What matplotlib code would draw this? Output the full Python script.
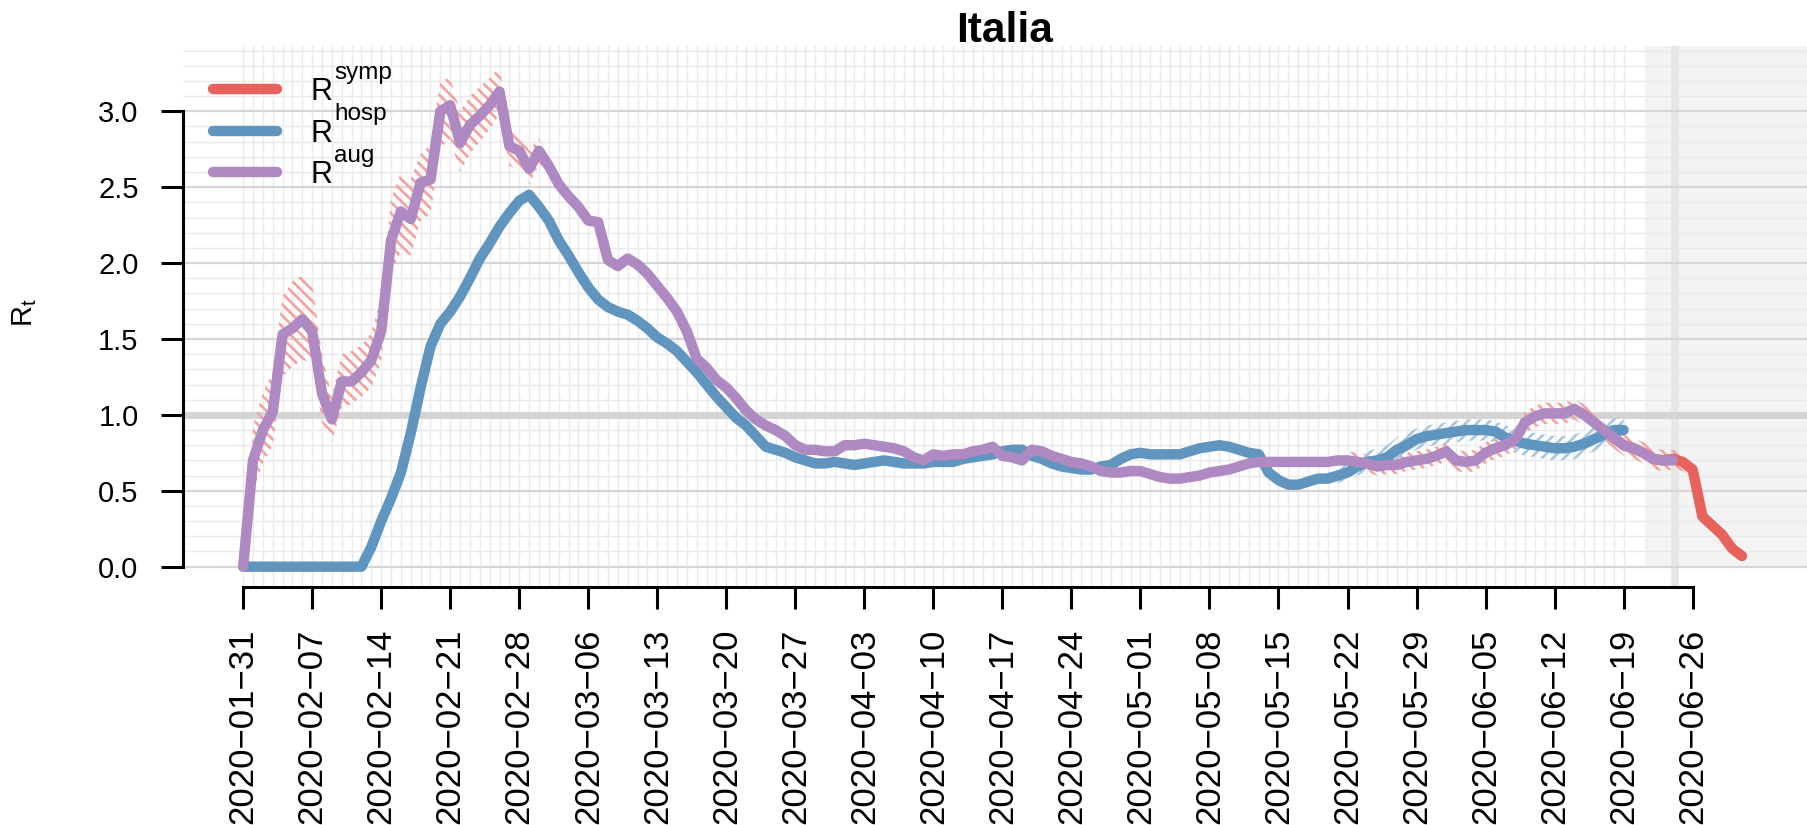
import numpy as np
import matplotlib.pyplot as plt
from matplotlib.lines import Line2D

plt.rcParams['font.family'] = ['Liberation Sans', 'DejaVu Sans']
plt.rcParams['mathtext.fontset'] = 'custom'
plt.rcParams['mathtext.rm'] = 'Liberation Sans'
plt.rcParams['mathtext.it'] = 'Liberation Sans:italic'
plt.rcParams['mathtext.bf'] = 'Liberation Sans:bold'
plt.rcParams['hatch.linewidth'] = 1.9

# all series are daily, day 0 = 2020-01-31
tick_labels = ['2020-01-31', '2020-02-07', '2020-02-14', '2020-02-21', '2020-02-28',
               '2020-03-06', '2020-03-13', '2020-03-20', '2020-03-27', '2020-04-03',
               '2020-04-10', '2020-04-17', '2020-04-24', '2020-05-01', '2020-05-08',
               '2020-05-15', '2020-05-22', '2020-05-29', '2020-06-05', '2020-06-12',
               '2020-06-19', '2020-06-26']

# R_aug, days 0..145
aug_vals = [0.00, 0.70, 0.90, 1.02, 1.53, 1.57, 1.63, 1.55, 1.14, 0.97,
            1.22, 1.22, 1.28, 1.36, 1.55, 2.15, 2.34, 2.29, 2.53, 2.55,
            3.00, 3.04, 2.79, 2.91, 2.97, 3.04, 3.13, 2.77, 2.74, 2.62,
            2.74, 2.64, 2.52, 2.44, 2.37, 2.28, 2.27, 2.02, 1.98, 2.03,
            1.99, 1.93, 1.85, 1.77, 1.68, 1.55, 1.37, 1.31, 1.23, 1.18,
            1.11, 1.03, 0.97, 0.93, 0.90, 0.86, 0.80, 0.77, 0.77, 0.76,
            0.76, 0.80, 0.80, 0.81, 0.80, 0.79, 0.78, 0.76, 0.72, 0.70,
            0.74, 0.73, 0.74, 0.74, 0.76, 0.77, 0.79, 0.73, 0.72, 0.70,
            0.77, 0.76, 0.73, 0.71, 0.69, 0.68, 0.66, 0.63, 0.62, 0.62,
            0.63, 0.63, 0.61, 0.59, 0.58, 0.58, 0.59, 0.60, 0.62, 0.63,
            0.64, 0.66, 0.68, 0.69, 0.69, 0.69, 0.69, 0.69, 0.69, 0.69,
            0.69, 0.70, 0.70, 0.69, 0.68, 0.66, 0.67, 0.67, 0.69, 0.70,
            0.71, 0.73, 0.76, 0.70, 0.69, 0.70, 0.75, 0.78, 0.80, 0.84,
            0.95, 0.99, 1.01, 1.01, 1.01, 1.04, 1.00, 0.95, 0.90, 0.85,
            0.80, 0.78, 0.75, 0.71, 0.70, 0.70]

# R_hosp, days 0..140
hosp_vals = [0.00, 0.00, 0.00, 0.00, 0.00, 0.00, 0.00, 0.00, 0.00, 0.00,
             0.00, 0.00, 0.00, 0.13, 0.30, 0.45, 0.62, 0.88, 1.18, 1.45,
             1.60, 1.68, 1.78, 1.90, 2.03, 2.13, 2.24, 2.33, 2.41, 2.45,
             2.37, 2.28, 2.15, 2.05, 1.94, 1.84, 1.76, 1.71, 1.68, 1.66,
             1.62, 1.57, 1.51, 1.47, 1.42, 1.35, 1.28, 1.20, 1.12, 1.05,
             0.98, 0.93, 0.86, 0.79, 0.77, 0.75, 0.72, 0.70, 0.68, 0.68,
             0.69, 0.68, 0.67, 0.68, 0.69, 0.70, 0.69, 0.68, 0.68, 0.68,
             0.69, 0.69, 0.69, 0.71, 0.72, 0.73, 0.74, 0.76, 0.77, 0.77,
             0.73, 0.71, 0.68, 0.66, 0.65, 0.64, 0.64, 0.66, 0.67, 0.71,
             0.74, 0.75, 0.74, 0.74, 0.74, 0.74, 0.76, 0.78, 0.79, 0.80,
             0.79, 0.77, 0.75, 0.74, 0.62, 0.57, 0.54, 0.54, 0.56, 0.58,
             0.58, 0.60, 0.62, 0.66, 0.69, 0.70, 0.72, 0.77, 0.80, 0.84,
             0.86, 0.87, 0.88, 0.89, 0.90, 0.90, 0.90, 0.89, 0.85, 0.83,
             0.81, 0.80, 0.79, 0.78, 0.78, 0.79, 0.81, 0.84, 0.87, 0.90,
             0.90]

# R_symp (visible part, under R_aug before), days 138..152
symp_start = 138
symp_vals = [0.90, 0.85, 0.80, 0.78, 0.75, 0.71, 0.70, 0.71, 0.69, 0.64,
             0.33, 0.27, 0.21, 0.12, 0.07]

# confidence bands
symp_ci1_lo = [0.00, 0.50, 0.68, 0.80, 1.25, 1.32, 1.36, 1.35, 0.95, 0.82,
               1.05, 1.07, 1.12, 1.18, 1.35, 1.92, 2.08, 2.05, 2.28, 2.32,
               2.76, 2.82, 2.60, 2.72, 2.80, 2.88, 2.98, 2.64, 2.62, 2.52,
               2.65, 2.57, 2.47, 2.40, 2.34, 2.26, 2.25]
symp_ci1_hi = [0.00, 0.92, 1.15, 1.28, 1.78, 1.88, 1.92, 1.86, 1.40, 1.12,
               1.40, 1.42, 1.46, 1.54, 1.78, 2.42, 2.60, 2.55, 2.72, 2.78,
               3.20, 3.22, 3.00, 3.10, 3.16, 3.22, 3.29, 2.92, 2.86, 2.74,
               2.82, 2.70, 2.57, 2.48, 2.40, 2.30, 2.29]
symp_ci2_start = 112
symp_ci2_lo = [0.64, 0.63, 0.62, 0.60, 0.61, 0.61, 0.63, 0.64, 0.65, 0.67,
               0.69, 0.63, 0.62, 0.63, 0.68, 0.71, 0.73, 0.77, 0.88, 0.92,
               0.94, 0.94, 0.94, 0.97, 0.93, 0.88, 0.83, 0.78, 0.73, 0.71,
               0.68, 0.64, 0.63, 0.64, 0.63, 0.59, 0.30, 0.25, 0.19, 0.11,
               0.06]
symp_ci2_hi = [0.76, 0.75, 0.74, 0.72, 0.73, 0.73, 0.75, 0.76, 0.77, 0.79,
               0.82, 0.77, 0.76, 0.77, 0.82, 0.85, 0.87, 0.91, 1.02, 1.06,
               1.08, 1.08, 1.08, 1.10, 1.07, 1.02, 0.97, 0.92, 0.87, 0.85,
               0.82, 0.78, 0.77, 0.77, 0.75, 0.69, 0.36, 0.29, 0.23, 0.13,
               0.08]
hosp_ci_start = 110
hosp_ci_lo = [0.54, 0.55, 0.57, 0.60, 0.63, 0.64, 0.65, 0.70, 0.73, 0.77,
              0.79, 0.80, 0.81, 0.82, 0.83, 0.83, 0.83, 0.82, 0.78, 0.75,
              0.73, 0.72, 0.71, 0.70, 0.70, 0.71, 0.73, 0.76, 0.79, 0.82,
              0.82]
hosp_ci_hi = [0.62, 0.65, 0.68, 0.72, 0.76, 0.78, 0.80, 0.85, 0.88, 0.91,
              0.93, 0.94, 0.95, 0.96, 0.97, 0.97, 0.97, 0.96, 0.93, 0.91,
              0.89, 0.88, 0.87, 0.86, 0.86, 0.87, 0.89, 0.92, 0.95, 0.98,
              0.98]

legend_sups = ['symp', 'hosp', 'aug']

shade_from = 142.2   # start of grey "incomplete" window
mark_day = 145.2     # vertical marker

c_symp = '#E8625D'
c_hosp = '#6095BF'
c_aug = '#AE89C2'

W, H = 1807, 825
fig = plt.figure(figsize=(W / 100, H / 100), dpi=100)
ax = fig.add_axes([183 / W, (H - 586.7) / H, 1 - 183 / W, (586.7 - 46) / H])
ax.set_xlim(-6.1, 158.6)
ax.set_ylim(-0.132, 3.43)

# background: shaded window, grid
ax.fill_between([shade_from, 160], 0, 4, color='#F3F3F3', lw=0, zorder=0)
ax.axvline(mark_day, color='#E6E6E6', lw=5.5, zorder=0.5)
for d in range(0, 141):
    ax.axvline(d, color='#EAEAEA', lw=1.0, zorder=0.6)
for k in range(0, 35):
    v = k / 10
    if k == 10:
        ax.axhline(v, color='#D4D4D4', lw=5.0, zorder=0.7)
    elif k % 5 == 0:
        ax.axhline(v, color='#D6D6D6', lw=1.6, zorder=0.7)
    else:
        ax.axhline(v, color='#EAEAEA', lw=1.0, zorder=0.6)

# confidence bands (hatched)
x1 = np.arange(len(symp_ci1_lo))
ax.fill_between(x1, symp_ci1_lo, symp_ci1_hi, facecolor='none', edgecolor='#F3A29E',
                hatch='\\\\\\', linewidth=0, zorder=1)
x2 = symp_ci2_start + np.arange(len(symp_ci2_lo))
ax.fill_between(x2, symp_ci2_lo, symp_ci2_hi, facecolor='none', edgecolor='#F3A29E',
                hatch='\\\\\\', linewidth=0, zorder=1)
x3 = hosp_ci_start + np.arange(len(hosp_ci_lo))
ax.fill_between(x3, hosp_ci_lo, hosp_ci_hi, facecolor='none', edgecolor='#A6C7E0',
                hatch='///', linewidth=0, zorder=1)

lw = 7.5
kw = dict(solid_capstyle='round', solid_joinstyle='round')
ax.plot(symp_start + np.arange(len(symp_vals)), symp_vals, color=c_symp, lw=lw, zorder=3, **kw)
ax.plot(np.arange(len(hosp_vals)), hosp_vals, color=c_hosp, lw=lw, zorder=4, **kw)
ax.plot(np.arange(len(aug_vals)), aug_vals, color=c_aug, lw=lw, zorder=5, **kw)

# axes in R style
for s in ['top', 'right']:
    ax.spines[s].set_visible(False)
ax.spines['left'].set_bounds(0, 3)
ax.spines['bottom'].set_bounds(0, 7 * (len(tick_labels) - 1))
ax.spines['left'].set_linewidth(2.2)
ax.spines['bottom'].set_linewidth(2.2)
ax.set_yticks(np.arange(0, 3.01, 0.5))
ax.set_yticklabels(['%.1f' % v for v in np.arange(0, 3.01, 0.5)], fontsize=21)
ax.set_xticks(np.arange(len(tick_labels)) * 7)
ax.set_xticklabels([t.replace('-', '\u2212') for t in tick_labels], rotation=90, fontsize=25)
ax.tick_params(axis='y', length=16, width=2.2, pad=16)
ax.tick_params(axis='x', length=16, width=2.2, pad=14)

# legend: "R" with raised superscripts
handles = [Line2D([], [], color=c, lw=lw, solid_capstyle='round') for c in (c_symp, c_hosp, c_aug)]
leg = ax.legend(handles, ['R'] * 3, loc='upper left', bbox_to_anchor=(0.0185, 0.9426),
                frameon=False, fontsize=22, handlelength=2.1, handletextpad=1.08,
                labelspacing=0.376, borderpad=0, borderaxespad=0)
leg.set_zorder(6)
for txt, sup in zip(leg.get_texts(), legend_sups):
    ax.annotate(sup, xy=(1, 0), xycoords=txt, xytext=(1.5, 20.5), textcoords='offset points',
                fontsize=17.5, ha='left', va='baseline', annotation_clip=False, zorder=7)

fig.text(1005 / W, (H - 42) / H, 'Italia', fontsize=30.5, fontweight='bold',
         ha='center', va='baseline')
fig.text(25 / W, (H - 313) / H, r'$\mathrm{R}_{\mathrm{t}}$', rotation=90, fontsize=21,
         ha='center', va='center')

fig.savefig('out.png', dpi=100)
